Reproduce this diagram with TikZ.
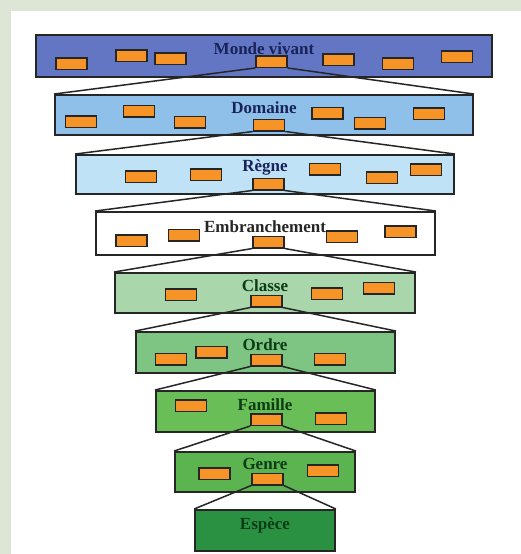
\documentclass[tikz,border=0pt]{standalone}
\usepackage{fontspec}
\setmainfont{Liberation Serif}

\definecolor{fond}{RGB}{221,230,214}
\definecolor{bleuA}{RGB}{98,118,196}
\definecolor{bleuB}{RGB}{142,192,234}
\definecolor{bleuC}{RGB}{192,226,246}
\definecolor{vertA}{RGB}{170,214,172}
\definecolor{vertB}{RGB}{126,196,131}
\definecolor{vertC}{RGB}{106,190,88}
\definecolor{vertD}{RGB}{92,180,80}
\definecolor{vertE}{RGB}{42,145,66}
\definecolor{orange}{RGB}{247,148,40}
\definecolor{marine}{RGB}{25,35,90}
\definecolor{foret}{RGB}{12,60,22}

\begin{document}
\begin{tikzpicture}[x=1pt,y=-1pt,line width=1.2pt]
\tikzset{
  niveau/.style={draw=black!85,line width=1.9pt,inner sep=0pt,minimum height=41pt},
  bloc/.style={draw=black!85,line width=1.5pt,fill=orange,inner sep=0pt,minimum width=31pt,minimum height=11.5pt},
  titre/.style={font=\bfseries\fontsize{17}{17}\selectfont,inner sep=0pt},
  lien/.style={line width=1.5pt,draw=black!85}
}
% frame
\useasboundingbox (0,0) rectangle (521,554);
\fill[fond] (0,0) rectangle (521,554);
\fill[white] (11,11) rectangle (521,554);
% levels
\node[niveau,fill=bleuA,minimum width=456pt,minimum height=42pt] (monde) at (264,56) {};
\node[niveau,fill=bleuB,minimum width=418pt,minimum height=40pt] (domaine) at (264,115) {};
\node[niveau,fill=bleuC,minimum width=378pt,minimum height=39pt] (regne) at (265,174.5) {};
\node[niveau,fill=white,minimum width=339pt,minimum height=43pt] (embr) at (265.5,233.5) {};
\node[niveau,fill=vertA,minimum width=300pt,minimum height=40pt] (classe) at (265,293) {};
\node[niveau,fill=vertB,minimum width=259pt] (ordre) at (265.5,352.5) {};
\node[niveau,fill=vertC,minimum width=219pt] (famille) at (265.5,411.5) {};
\node[niveau,fill=vertD,minimum width=180pt,minimum height=40pt] (genre) at (265,472) {};
\node[niveau,fill=vertE,minimum width=140pt] (espece) at (265,530.5) {};
% names
\node[titre,text=marine] (monde-t) at (264,49) {Monde vivant};
\node[titre,text=marine] (domaine-t) at (264,108) {Domaine};
\node[titre,text=marine] (regne-t) at (265,167) {Règne};
\node[titre,text=black!85] (embr-t) at (265,227) {Embranchement};
\node[titre,text=foret] (classe-t) at (265,286) {Classe};
\node[titre,text=foret] (ordre-t) at (265,345) {Ordre};
\node[titre,text=foret] (famille-t) at (265,405) {Famille};
\node[titre,text=foret] (genre-t) at (265,464) {Genre};
\node[titre,text=foret] (espece-t) at (265,525) {Espèce};
% members of each level
\foreach \x/\y [count=\i] in {71.5/63.5,131.5/55.5,170.5/58.5,338.5/59.5,398/63.5,457/56.5}
  \node[bloc] (m\i) at (\x,\y) {};
\foreach \x/\y [count=\i] in {81/121.5,139/111,190/122,327.5/113,370/123,429/113.5}
  \node[bloc] (d\i) at (\x,\y) {};
\foreach \x/\y [count=\i] in {141/176.5,206/174.5,325/169,382/177.5,426/169.5}
  \node[bloc] (r\i) at (\x,\y) {};
\foreach \x/\y [count=\i] in {131.5/240.5,184/235,342/236.5,400.5/231.5}
  \node[bloc] (e\i) at (\x,\y) {};
\foreach \x/\y [count=\i] in {181/294.5,327/293.5,379/288}
  \node[bloc] (c\i) at (\x,\y) {};
\foreach \x/\y [count=\i] in {171/359,211.5/352,330/359}
  \node[bloc] (o\i) at (\x,\y) {};
\foreach \x/\y [count=\i] in {191/405.5,331/418.5}
  \node[bloc] (f\i) at (\x,\y) {};
\foreach \x/\y [count=\i] in {214.5/473.5,323/470.5}
  \node[bloc] (g\i) at (\x,\y) {};
% chosen member, opened below
\node[bloc] (monde-c) at (271.5,61.5) {};
\node[bloc] (domaine-c) at (269,125) {};
\node[bloc] (regne-c) at (268.5,184) {};
\node[bloc] (embr-c) at (268.5,242) {};
\node[bloc] (classe-c) at (266.5,301) {};
\node[bloc] (ordre-c) at (266.5,360) {};
\node[bloc] (famille-c) at (266.5,419.5) {};
\node[bloc] (genre-c) at (267.5,479) {};
% funnel lines
\draw[lien] (monde-c.south west) -- (domaine.north west) (monde-c.south east) -- (domaine.north east);
\draw[lien] (domaine-c.south west) -- (regne.north west) (domaine-c.south east) -- (regne.north east);
\draw[lien] (regne-c.south west) -- (embr.north west) (regne-c.south east) -- (embr.north east);
\draw[lien] (embr-c.south west) -- (classe.north west) (embr-c.south east) -- (classe.north east);
\draw[lien] (classe-c.south west) -- (ordre.north west) (classe-c.south east) -- (ordre.north east);
\draw[lien] (ordre-c.south west) -- (famille.north west) (ordre-c.south east) -- (famille.north east);
\draw[lien] (famille-c.south west) -- (genre.north west) (famille-c.south east) -- (genre.north east);
\draw[lien] (genre-c.south west) -- (espece.north west) (genre-c.south east) -- (espece.north east);
\end{tikzpicture}
\end{document}
